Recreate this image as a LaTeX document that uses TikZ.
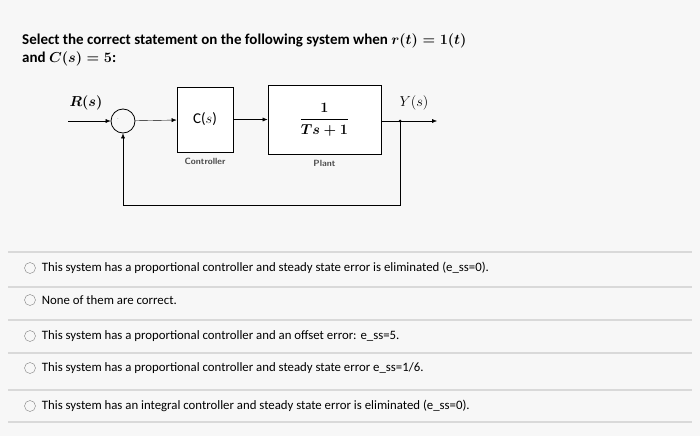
\documentclass[tikz,border=0pt]{standalone}
\usepackage{amsmath}
\usepackage{fontspec}
\setmainfont{Carlito}
\usetikzlibrary{arrows.meta, positioning}

\begin{document}
\begin{tikzpicture}[
  x=1pt, y=-1pt,
  font=\fontsize{12.8}{15}\selectfont,
  blk/.style={draw, thick, fill=white, inner sep=0pt},
  sumnode/.style={draw, circle, thick, minimum size=24pt, inner sep=0pt},
  sig/.style={-{Latex[length=5pt,width=4pt]}},
  opt/.style={draw=gray, circle, minimum size=11pt, inner sep=0pt},
  optext/.style={anchor=west, inner sep=0pt},
  caption/.style={font=\sffamily\fontsize{9}{10}\selectfont\bfseries, text=black!70}
]
\useasboundingbox[fill=black!3] (0,0) rectangle (700,436);
% question
\node[anchor=west, inner sep=0pt, font=\fontsize{15}{17}\selectfont\bfseries] (q1) at (22,41)
  {Select the correct statement on the following system when $\boldsymbol{r(t)=1(t)}$};
\node[anchor=west, inner sep=0pt, font=\fontsize{15}{17}\selectfont\bfseries] (q2) at (22,59)
  {and $\boldsymbol{C(s)=5}$:};
% block diagram
\node[sumnode] (sum) at (123,121) {};
\node[font=\tiny] at (118,119) {$\cdot$};
\node[blk, minimum width=56pt, minimum height=65pt] (ctrl) at (205,119.5) {\fontsize{15}{17}\selectfont C($s$)};
\node[blk, minimum width=113pt, minimum height=69pt] (plant) at (324.5,119.5)
  {\fontsize{14}{16}\selectfont$\boldsymbol{\dfrac{1}{Ts+1}}$};
\node[caption, below=2pt of ctrl] (clab) {Controller};
\node[caption, below=2pt of plant] (plab) {Plant};
\coordinate (rin) at (68,121);
\coordinate (yout) at (437,121);
\coordinate (tap) at (400,121);
\coordinate (fbr) at (400,205);
\coordinate (fbl) at (123,205);
\fill (tap) circle (1.5pt);
\node[font=\fontsize{14}{16}\selectfont] (rlab) at (86,103) {$\boldsymbol{R(s)}$};
\node[font=\fontsize{14}{16}\selectfont] (ylab) at (414,103) {$Y(s)$};
\draw[sig] (rin) -- (sum);
\draw[sig] (sum) -- (ctrl);
\draw[sig] (ctrl) -- (plant);
\draw[sig] (plant.east |- tap) -- (yout);
\draw[sig] (tap) -- (fbr) -- (fbl) -- (sum);
% options
\foreach \yy in {252,287,320,353,390,422}
  \draw[black!15, line width=1.5pt] (8,\yy) -- (692,\yy);
\node[opt] (o1) at (30,268) {};
\node[optext, right=6pt of o1] {This system has a proportional controller and steady state error is eliminated (e\_ss=0).};
\node[opt] (o2) at (30,300) {};
\node[optext, right=6pt of o2] {None of them are correct.};
\node[opt] (o3) at (30,336) {};
\node[optext, right=6pt of o3] {This system has a proportional controller and an offset error: e\_ss=5.};
\node[opt] (o4) at (30,368) {};
\node[optext, right=6pt of o4] {This system has a proportional controller and steady state error e\_ss=1/6.};
\node[opt] (o5) at (30,406) {};
\node[optext, right=6pt of o5] {This system has an integral controller and steady state error is eliminated (e\_ss=0).};
\end{tikzpicture}
\end{document}
